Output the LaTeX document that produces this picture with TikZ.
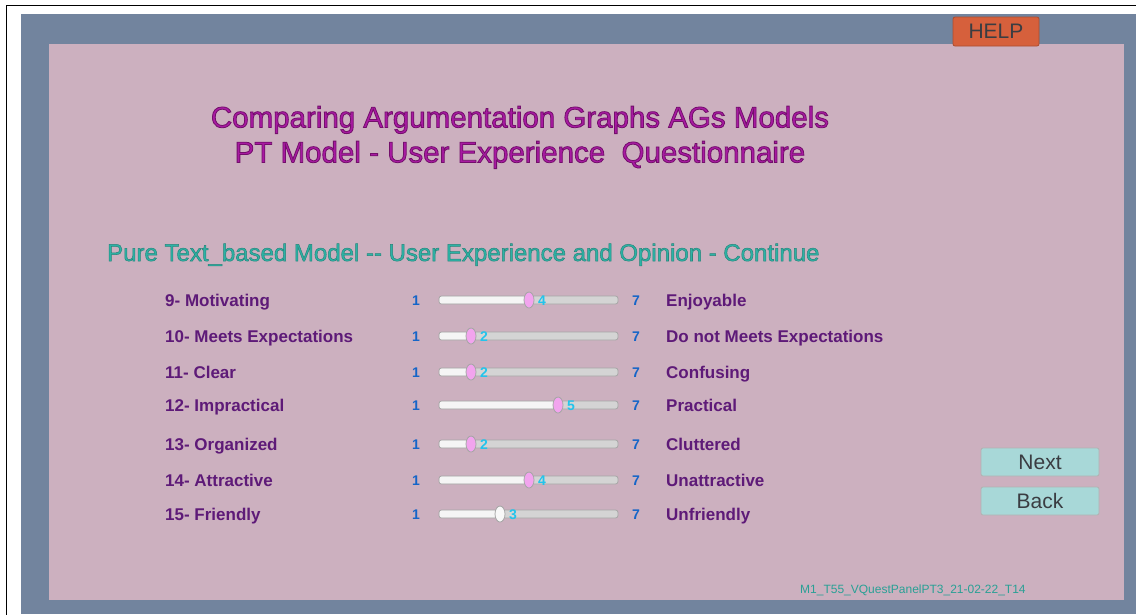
\documentclass[tikz,border=0pt]{standalone}
\usepackage{fontspec}
\setmainfont{Liberation Sans}
\usetikzlibrary{positioning,shapes.geometric}
\definecolor{panelpink}{HTML}{CCB0BF}
\definecolor{framegray}{HTML}{72849E}
\definecolor{titlepurple}{HTML}{A81AA2}
\definecolor{labelpurple}{HTML}{5E1A78}
\definecolor{subteal}{HTML}{2DB2A6}
\definecolor{numblue}{HTML}{1565C8}
\definecolor{valcyan}{HTML}{22C4EC}
\definecolor{thumbpink}{HTML}{F2A4EE}
\definecolor{thumbwhite}{HTML}{F8F8F8}
\definecolor{helporange}{HTML}{D6603C}
\definecolor{btnteal}{HTML}{A8D8D8}
% outlined text (fill + stroke)
\newcommand\outlined[3]{\special{pdf:literal direct #2 RG 2 Tr #1 w}#3\special{pdf:literal direct 0 Tr}}
\begin{document}
\begin{tikzpicture}[x=1pt,y=-1pt,
    rowlabel/.style={anchor=base west,inner sep=0pt,text=labelpurple,font=\fontsize{17}{20}\selectfont\bfseries},
    endnum/.style={anchor=base,inner sep=0pt,text=numblue,font=\fontsize{14}{16}\selectfont\bfseries},
    valnum/.style={anchor=base west,inner sep=0pt,text=valcyan,font=\fontsize{14}{16}\selectfont\bfseries},
    thumb/.style={ellipse,draw=black!35,line width=0.8pt,minimum width=10pt,minimum height=16pt,inner sep=0pt},
    button/.style={draw=black!30,line width=0.8pt,rounded corners=2pt,fill=btnteal,text=black!85!cyan,
        minimum width=118pt,minimum height=28pt,inner sep=0pt,font=\fontsize{21}{24}\selectfont}]
\useasboundingbox (0,0) rectangle (1136,614);
\fill[white] (0,0) rectangle (1136,614);
\draw[line width=1.5pt] (6.5,630) -- (6.5,5.5) -- (1150,5.5);
\fill[framegray] (21,14) rectangle (1136,614);
\fill[panelpink] (49,44) rectangle (1124,600);
% help
\node[draw=helporange!80!black,line width=0.8pt,rounded corners=2pt,fill=helporange,text=black!85!cyan,
    minimum width=86pt,minimum height=29pt,inner sep=0pt,font=\fontsize{21}{24}\selectfont] (help) at (996,31.5) {HELP};
% heading
\node[anchor=base,inner sep=0pt,text=titlepurple,font=\fontsize{29.5}{35}\selectfont] (titleA) at (520,127.5)
    {\outlined{0.8}{0.45 0.06 0.42}{Comparing Argumentation Graphs AGs Models}};
\node[anchor=base,inner sep=0pt,text=titlepurple,font=\fontsize{29.5}{35}\selectfont] (titleB) at (520,162.5)
    {\outlined{0.8}{0.45 0.06 0.42}{PT Model - User Experience\ \ Questionnaire}};
\node[anchor=base west,inner sep=0pt,text=subteal,font=\fontsize{24}{28}\selectfont] (subtitle) at (107,261)
    {\outlined{0.5}{0.15 0.52 0.48}{Pure Text\_based Model -{}- User Experience and Opinion - Continue}};
% the seven rows
\foreach \y/\lab/\v/\rlab/\tc [count=\i] in {300/9- Motivating/4/Enjoyable/thumbpink,
    336/10- Meets Expectations/2/Do not Meets Expectations/thumbpink,
    372/11- Clear/2/Confusing/thumbpink,
    405/12- Impractical/5/Practical/thumbpink,
    444/13- Organized/2/Cluttered/thumbpink,
    480/14- Attractive/4/Unattractive/thumbpink,
    514/15- Friendly/3/Unfriendly/thumbwhite}{
  \pgfmathsetmacro\tx{442+(\v-1)*29}
  \node[rowlabel] (left\i) at (165,\y+6) {\lab};
  \node[endnum] (low\i) at (416,\y+5) {1};
  \node[endnum] (high\i) at (636,\y+5) {7};
  \draw[black!35,line width=0.8pt,fill=black!17,rounded corners=2.5pt] (439,\y-4) rectangle (618,\y+4);
  \fill[white!96!black,rounded corners=2pt] (439.6,\y-3.4) rectangle (\tx,\y+3.4);
  \node[thumb,fill=\tc] (thumb\i) at (\tx,\y) {};
  \node[valnum] (val\i) at (\tx+9,\y+5.5) {\v};
  \node[rowlabel] (right\i) at (666,\y+6) {\rlab};
}
% buttons
\node[button] (next) at (1040,462) {Next};
\node[button] (back) at (1040,501) {Back};
\node[anchor=base west,inner sep=0pt,text=subteal!90!black,font=\fontsize{12}{14}\selectfont] (panelid) at (800,593)
    {M1\_T55\_VQuestPanelPT3\_21-02-22\_T14};
\end{tikzpicture}
\end{document}
